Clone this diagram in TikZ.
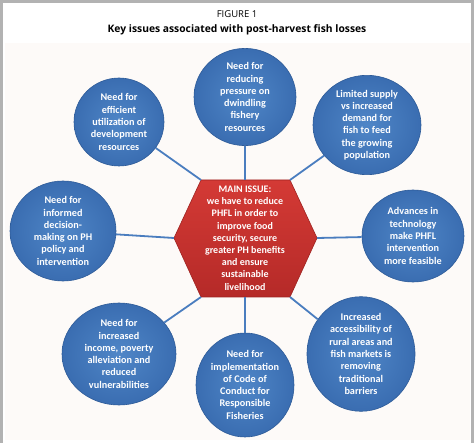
\documentclass[tikz,border=0pt]{standalone}
\usepackage{fontspec}
\setmainfont{Carlito}
\newfontfamily\titlefont{Open Sans}
\usetikzlibrary{positioning,calc,shapes.geometric}
\definecolor{frame}{HTML}{B2B2B2}
\definecolor{panel}{HTML}{FDFAF8}
\definecolor{bubble}{HTML}{3A6DB1}
\definecolor{bubblelight}{HTML}{4F86C7}
\definecolor{bubbleedge}{HTML}{2E5B98}
\definecolor{issue}{HTML}{B52A28}
\definecolor{issuelight}{HTML}{D43A35}
\definecolor{issueedge}{HTML}{9E2220}
\definecolor{spoke}{HTML}{4A7DBF}
\tikzset{
  needbubble/.style={ellipse, draw=bubbleedge, line width=0.6pt, inner color=bubblelight, outer color=bubble, text=white, align=center, inner sep=0pt, font=\fontsize{10.2}{12.3}\selectfont\bfseries},
  issuetext/.style={align=center, text=white, inner sep=0pt, font=\fontsize{10}{12.2}\selectfont\bfseries},
  issuehex/.style={top color=issuelight, bottom color=issue, draw=issueedge, line width=0.6pt},
  spokeline/.style={draw=spoke, line width=1.8pt}
}

\begin{document}
\begin{tikzpicture}[x=1pt, y=-1pt]
  \useasboundingbox (0,0) rectangle (474,443);
  \fill[white] (0,0) rectangle (474,443);
  \fill[panel] (5,43) rectangle (470,440);
  \draw[frame, line width=3pt] (1.5,443) -- (1.5,1.5) -- (472.5,1.5) -- (472.5,443);
  \node[font=\titlefont\fontsize{9.5}{11}\selectfont] (figlabel) at (237,14) {FIGURE 1};
  \node[font=\titlefont\bfseries\fontsize{10.3}{11}\selectfont, below=0.5pt of figlabel] (figtitle) {Key issues associated with post-harvest fish losses};
  \coordinate (issuecenter) at (245,238);
  \coordinate (hexnw) at ($(issuecenter)+(-44,-58)$);
  \coordinate (hexne) at ($(issuecenter)+(45,-58)$);
  \coordinate (hexe) at ($(issuecenter)+(72,0)$);
  \coordinate (hexse) at ($(issuecenter)+(45,59)$);
  \coordinate (hexsw) at ($(issuecenter)+(-44,59)$);
  \coordinate (hexw) at ($(issuecenter)+(-71,0)$);
  \shade[issuehex] (hexnw) -- (hexne) -- (hexe) -- (hexse) -- (hexsw) -- (hexw) -- cycle;
  \node[issuetext] (mainissue) at (issuecenter) {MAIN ISSUE:\\we have to reduce\\PHFL in order to\\improve food\\security, secure\\greater PH benefits\\and ensure\\sustainable\\livelihood};
  \node[needbubble, minimum width=102, minimum height=88] (pressure) at (245,97) {Need for\\reducing\\pressure on\\dwindling\\fishery\\resources};
  \node[needbubble, minimum width=90, minimum height=88] (utilization) at (119,122) {Need for\\efficient\\utilization of\\development\\resources};
  \node[needbubble, minimum width=108, minimum height=90] (supply) at (367,125) {Limited supply\\vs increased\\demand for\\fish to feed\\the growing\\population};
  \node[needbubble, minimum width=106, minimum height=100] (decision) at (63,231) {Need for\\informed\\decision-\\making on PH\\policy and\\intervention};
  \node[needbubble, minimum width=102, minimum height=92] (technology) at (413,236) {Advances in\\technology\\make PHFL\\intervention\\more feasible};
  \node[needbubble, minimum width=114, minimum height=102] (income) at (119,354) {Need for\\increased\\income, poverty\\alleviation and\\reduced\\vulnerabilities};
  \node[needbubble, minimum width=98, minimum height=104] (conduct) at (245,385) {Need for\\implementation\\of Code of\\Conduct for\\Responsible\\Fisheries};
  \node[needbubble, minimum width=108, minimum height=102] (access) at (361,354) {Increased\\accessibility of\\rural areas and\\fish markets is\\removing\\traditional\\barriers};
  \draw[spokeline] (pressure) -- (pressure |- hexnw);
  \draw[spokeline] (utilization) -- (hexnw);
  \draw[spokeline] (supply) -- (hexne);
  \draw[spokeline] (decision) -- (hexw);
  \draw[spokeline] (technology) -- (hexe);
  \draw[spokeline] (income) -- (hexsw);
  \draw[spokeline] (conduct) -- (conduct |- hexsw);
  \draw[spokeline] (access) -- (hexse);
\end{tikzpicture}
\end{document}
